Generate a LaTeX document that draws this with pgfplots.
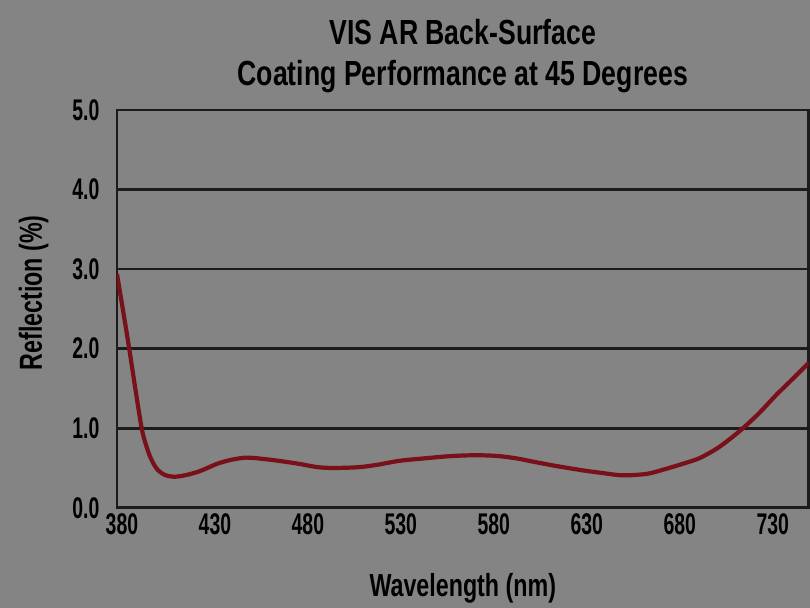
\documentclass[border=0pt]{standalone}
\usepackage{fontspec}
\setmainfont{Liberation Sans}
\newfontfamily\titlef{Liberation Sans}[FakeStretch=0.765]
\newfontfamily\tickf{Liberation Sans}[FakeStretch=0.65]
\newfontfamily\labelf{Liberation Sans}[FakeStretch=0.73]
\usepackage{pgfplots}
\pgfplotsset{compat=1.18}
\definecolor{bg}{HTML}{848484}
\definecolor{gridc}{HTML}{1C1C1C}
\definecolor{curve}{HTML}{7A1019}

\begin{document}
\begin{tikzpicture}
\fill[bg] (-117bp,-100bp) rectangle (693bp,508bp);
\begin{axis}[
  name=ax,
  at={(0,0)}, anchor=south west,
  scale only axis, width=692bp, height=398bp,
  xmin=380, xmax=752, ymin=0, ymax=5,
  xtick={380,430,...,730}, ytick={0,1,...,5},
  yticklabel style={/pgf/number format/fixed, /pgf/number format/fixed zerofill, /pgf/number format/precision=1},
  /pgf/number format/assume math mode=true,
  major tick length=0pt,
  tick label style={font=\tickf\bfseries\fontsize{30}{32}\selectfont, text=black},
  xticklabel style={yshift=-2bp, xshift=5bp},
  yticklabel style={xshift=-14bp},
  axis line style={gridc, line width=2.8bp},
  ymajorgrids, major grid style={gridc, line width=2.8bp},
]
\addplot[curve, line width=4.2bp, smooth, tension=0.5] coordinates {
(380,2.94) (383,2.52) (386.6,2.00) (390,1.48) (393.3,1.00) (395.5,0.80)
(397.7,0.65) (400,0.54) (402.2,0.47) (406,0.41) (411,0.39) (417,0.41)
(424.6,0.46) (433.6,0.55) (441,0.60) (449.7,0.63) (460,0.61) (470,0.58)
(478.4,0.55) (488,0.51) (497,0.50) (510,0.51) (520,0.54) (532,0.59)
(545,0.62) (560,0.65) (573.5,0.66) (585,0.65) (595,0.62) (603.7,0.58)
(615,0.53) (630.5,0.47) (640,0.44) (650,0.41) (657,0.41) (666,0.43)
(675.5,0.49) (684,0.55) (693,0.62) (702.4,0.74) (710,0.87) (716.7,1.00)
(725,1.18) (734.7,1.42) (743,1.61) (752,1.82)
};
\end{axis}
\node[anchor=base, font=\titlef\bfseries\fontsize{35}{36}\selectfont] at ([yshift=65bp]ax.north) {VIS AR Back-Surface};
\node[anchor=base, font=\titlef\bfseries\fontsize{35}{36}\selectfont] at ([yshift=24bp]ax.north) {Coating Performance at 45 Degrees};
\node[anchor=base, font=\labelf\bfseries\fontsize{32}{34}\selectfont] at ([yshift=-89bp]ax.south) {Wavelength (nm)};
\node[anchor=base, rotate=90, font=\labelf\bfseries\fontsize{32}{34}\selectfont] at (-75bp,215bp) {Reflection (\%)};
\end{tikzpicture}
\end{document}
